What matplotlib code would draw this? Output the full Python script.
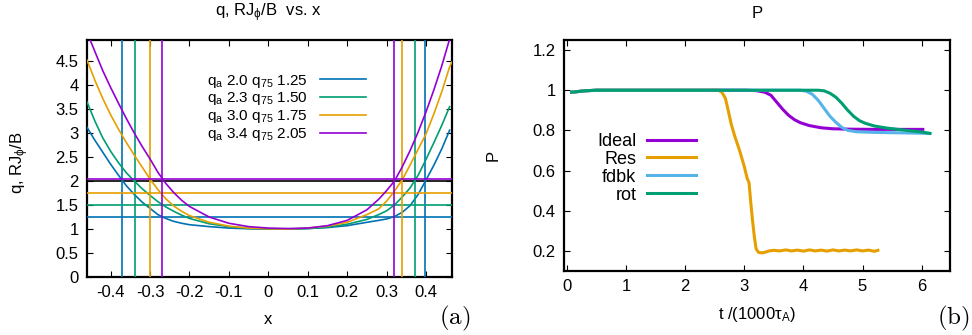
import numpy as np
import matplotlib.pyplot as plt
from matplotlib.ticker import FuncFormatter

plt.rcParams['font.family'] = ['Liberation Sans', 'DejaVu Sans']
plt.rcParams['mathtext.fontset'] = 'cm'
plt.rcParams['mathtext.default'] = 'regular'
plt.rcParams['axes.unicode_minus'] = False

# ---- panel (a): q profiles vs x ----
x_blue = [-0.46, -0.44, -0.42, -0.40, -0.38, -0.36, -0.34, -0.32, -0.30, -0.28, -0.26, -0.24, -0.22, -0.20,
          -0.15, -0.10, -0.05, 0.0, 0.05, 0.10, 0.15, 0.20, 0.25, 0.28, 0.30, 0.32, 0.34, 0.36, 0.38, 0.40,
          0.42, 0.44, 0.46]
q_blue = [3.12, 2.85, 2.60, 2.35, 2.12, 1.90, 1.72, 1.56, 1.43, 1.30, 1.22, 1.16, 1.12, 1.09,
          1.05, 1.02, 1.005, 1.0, 1.0, 1.01, 1.03, 1.07, 1.14, 1.18, 1.21, 1.26, 1.35, 1.49, 1.72, 2.02,
          2.33, 2.67, 3.06]

x_green = [-0.46, -0.44, -0.42, -0.40, -0.38, -0.36, -0.34, -0.32, -0.30, -0.28, -0.26, -0.24, -0.22, -0.20,
           -0.15, -0.10, -0.05, 0.0, 0.05, 0.10, 0.15, 0.20, 0.25, 0.28, 0.30, 0.32, 0.34, 0.36, 0.38, 0.40,
           0.42, 0.44, 0.46]
q_green = [3.65, 3.25, 2.90, 2.62, 2.38, 2.17, 2.00, 1.84, 1.70, 1.57, 1.46, 1.37, 1.29, 1.22,
           1.11, 1.05, 1.015, 1.0, 1.0, 1.01, 1.04, 1.10, 1.20, 1.30, 1.38, 1.50, 1.67, 1.86, 2.12, 2.45,
           2.80, 3.16, 3.55]

x_orange = [-0.46, -0.44, -0.42, -0.40, -0.38, -0.36, -0.34, -0.32, -0.30, -0.28, -0.26, -0.24, -0.22, -0.20,
            -0.15, -0.10, -0.05, 0.0, 0.05, 0.10, 0.15, 0.20, 0.25, 0.28, 0.30, 0.32, 0.34, 0.36, 0.38, 0.40,
            0.42, 0.44, 0.46, 0.466]
q_orange = [4.52, 4.10, 3.72, 3.38, 3.08, 2.80, 2.54, 2.29, 2.04, 1.82, 1.63, 1.48, 1.37, 1.28,
            1.14, 1.06, 1.02, 1.005, 1.0, 1.02, 1.06, 1.14, 1.30, 1.42, 1.58, 1.79, 2.03, 2.34, 2.66, 2.98,
            3.40, 3.86, 4.38, 4.48]

x_purple = [-0.455, -0.44, -0.42, -0.40, -0.38, -0.36, -0.34, -0.32, -0.30, -0.28, -0.26, -0.24, -0.22, -0.20,
            -0.15, -0.10, -0.05, 0.0, 0.05, 0.10, 0.15, 0.20, 0.25, 0.28, 0.30, 0.32, 0.34, 0.36, 0.38, 0.40,
            0.42, 0.44, 0.46]
q_purple = [5.00, 4.70, 4.30, 3.95, 3.62, 3.30, 3.00, 2.72, 2.46, 2.18, 1.95, 1.76, 1.60, 1.47,
            1.25, 1.12, 1.05, 1.02, 1.01, 1.02, 1.07, 1.18, 1.40, 1.62, 1.80, 2.00, 2.30, 2.64, 3.02, 3.44,
            3.90, 4.40, 4.96]

q75_levels = [1.25, 1.50, 1.75, 2.05]
x_left_res = [-0.370, -0.339, -0.300, -0.270]
x_right_res = [0.397, 0.373, 0.339, 0.320]
labels_a = [r'q$_a$ 2.0 q$_{75}$ 1.25', r'q$_a$ 2.3 q$_{75}$ 1.50',
            r'q$_a$ 3.0 q$_{75}$ 1.75', r'q$_a$ 3.4 q$_{75}$ 2.05']
colors_a = ['#0072B2', '#009E73', '#E69F00', '#9400D3']

# ---- panel (b): P vs t ----
t_ideal = [0.08, 0.3, 0.5, 1.0, 2.0, 3.0, 3.2, 3.35, 3.45, 3.55, 3.65, 3.75, 3.85, 3.95, 4.1, 4.3, 4.5,
           4.8, 5.2, 5.6, 6.02]
p_ideal = [0.99, 0.997, 1.0, 1.0, 1.0, 1.0, 0.998, 0.99, 0.975, 0.94, 0.905, 0.875, 0.853, 0.838, 0.824,
           0.813, 0.808, 0.806, 0.805, 0.805, 0.805]

t_res = [0.08, 0.3, 0.5, 1.0, 2.0, 2.56, 2.62, 2.68, 2.72, 2.78, 2.84, 2.92, 3.0, 3.05, 3.08, 3.11, 3.14,
         3.17, 3.2, 3.24, 3.3, 3.36, 3.42, 3.5, 3.6, 3.7, 3.8, 3.9, 4.0, 4.1, 4.2, 4.3, 4.4, 4.5, 4.6,
         4.7, 4.8, 4.9, 5.0, 5.1, 5.2, 5.26]
p_res = [0.99, 0.997, 1.0, 1.0, 1.0, 1.0, 0.99, 0.96, 0.91, 0.83, 0.77, 0.70, 0.62, 0.56, 0.54, 0.44, 0.35,
         0.27, 0.21, 0.193, 0.19, 0.194, 0.2, 0.203, 0.2, 0.205, 0.2, 0.204, 0.199, 0.205, 0.2, 0.204,
         0.199, 0.205, 0.2, 0.204, 0.2, 0.205, 0.2, 0.204, 0.198, 0.203]

t_fdbk = [0.08, 0.3, 0.5, 1.0, 2.0, 3.0, 3.95, 4.05, 4.15, 4.25, 4.35, 4.45, 4.55, 4.65, 4.75, 4.9, 5.2,
          5.6, 6.14]
p_fdbk = [0.99, 0.997, 1.0, 1.0, 1.0, 1.0, 1.0, 0.995, 0.98, 0.95, 0.91, 0.87, 0.84, 0.815, 0.80, 0.793,
          0.79, 0.788, 0.785]

t_rot = [0.08, 0.3, 0.5, 1.0, 2.0, 3.0, 4.0, 4.25, 4.35, 4.45, 4.55, 4.65, 4.75, 4.85, 4.95, 5.05, 5.2,
         5.4, 5.6, 5.8, 6.0, 6.14]
p_rot = [0.99, 0.997, 1.0, 1.0, 1.0, 1.0, 1.0, 1.0, 0.997, 0.985, 0.965, 0.935, 0.90, 0.87, 0.848, 0.835,
         0.822, 0.812, 0.805, 0.798, 0.792, 0.785]

# gnuplot style %g labels, no "-0"
gfmt = FuncFormatter(lambda v, pos: '%g' % (round(v, 6) + 0.0))

fig = plt.figure(figsize=(9.72, 3.35), dpi=100)
axa = fig.add_axes([87 / 972, 1 - 277 / 335, 365 / 972, 237 / 335])
axb = fig.add_axes([564 / 972, 1 - 271 / 335, 386 / 972, 231 / 335])

# panel (a)
curves = [(x_blue, q_blue), (x_green, q_green), (x_orange, q_orange), (x_purple, q_purple)]
axa.axhline(2.0, color='black', lw=1.2, zorder=2)
for i, (xx, qq) in enumerate(curves):
    c = colors_a[i]
    axa.plot(xx, qq, color=c, lw=1.2, label=labels_a[i], zorder=3)
    axa.axhline(q75_levels[i], color=c, lw=1.2, zorder=3)
    axa.axvline(x_left_res[i], color=c, lw=1.2, zorder=3)
    axa.axvline(x_right_res[i], color=c, lw=1.2, zorder=3)
axa.set_xlim(-0.46, 0.466)
axa.set_ylim(0, 4.94)
axa.set_xticks(np.arange(-0.4, 0.41, 0.1))
axa.set_yticks(np.arange(0, 4.6, 0.5))
axa.xaxis.set_major_formatter(gfmt)
axa.yaxis.set_major_formatter(gfmt)
axa.legend(loc='upper right', bbox_to_anchor=(0.765, 0.862), frameon=False, markerfirst=False,
           fontsize=11, handlelength=3.0, handletextpad=0.8, labelspacing=0.05, borderpad=0,
           borderaxespad=0)

# panel (b)
axb.plot(t_ideal, p_ideal, color='#9400D3', lw=2.2, label='Ideal')
axb.plot(t_res, p_res, color='#E69F00', lw=2.2, label='Res')
axb.plot(t_fdbk, p_fdbk, color='#56B4E9', lw=2.2, label='fdbk')
axb.plot(t_rot, p_rot, color='#009E73', lw=2.2, label='rot')
axb.set_xlim(-0.05, 6.48)
axb.set_ylim(0.1, 1.25)
axb.set_xticks(np.arange(0, 7, 1))
axb.set_yticks([0.2, 0.4, 0.6, 0.8, 1.0, 1.2])
axb.xaxis.set_major_formatter(gfmt)
axb.yaxis.set_major_formatter(gfmt)
axb.legend(loc='upper right', bbox_to_anchor=(0.342, 0.598), frameon=False, markerfirst=False,
           fontsize=13, handlelength=2.7, handletextpad=0.6, labelspacing=0.05, borderpad=0,
           borderaxespad=0)

for ax in (axa, axb):
    for s in ax.spines.values():
        s.set_linewidth(1.6)
    ax.tick_params(direction='in', length=4, width=0.8, top=True, right=True, labelsize=12, pad=6)

fig.text(268 / 972, 1 - 13 / 335, r'q, RJ$_\phi$/B  vs. x', ha='center', va='center', fontsize=12)
fig.text(268 / 972, 1 - 320 / 335, 'x', ha='center', va='center', fontsize=12)
fig.text(20 / 972, 1 - 163 / 335, r'q, RJ$_\phi$/B', ha='center', va='center', fontsize=12, rotation=90)
fig.text(757 / 972, 1 - 13 / 335, 'P', ha='center', va='center', fontsize=12)
fig.text(757 / 972, 1 - 315 / 335, 't /(1000τ$_A$)', ha='center', va='center', fontsize=12)
fig.text(493 / 972, 1 - 155 / 335, 'P', ha='center', va='center', fontsize=12, rotation=90)
fig.text(455 / 972, 1 - 318 / 335, r'$\mathrm{(a)}$', ha='center', va='center', fontsize=18)
fig.text(953 / 972, 1 - 318 / 335, r'$\mathrm{(b)}$', ha='center', va='center', fontsize=18)

fig.savefig('out.png', dpi=100)
